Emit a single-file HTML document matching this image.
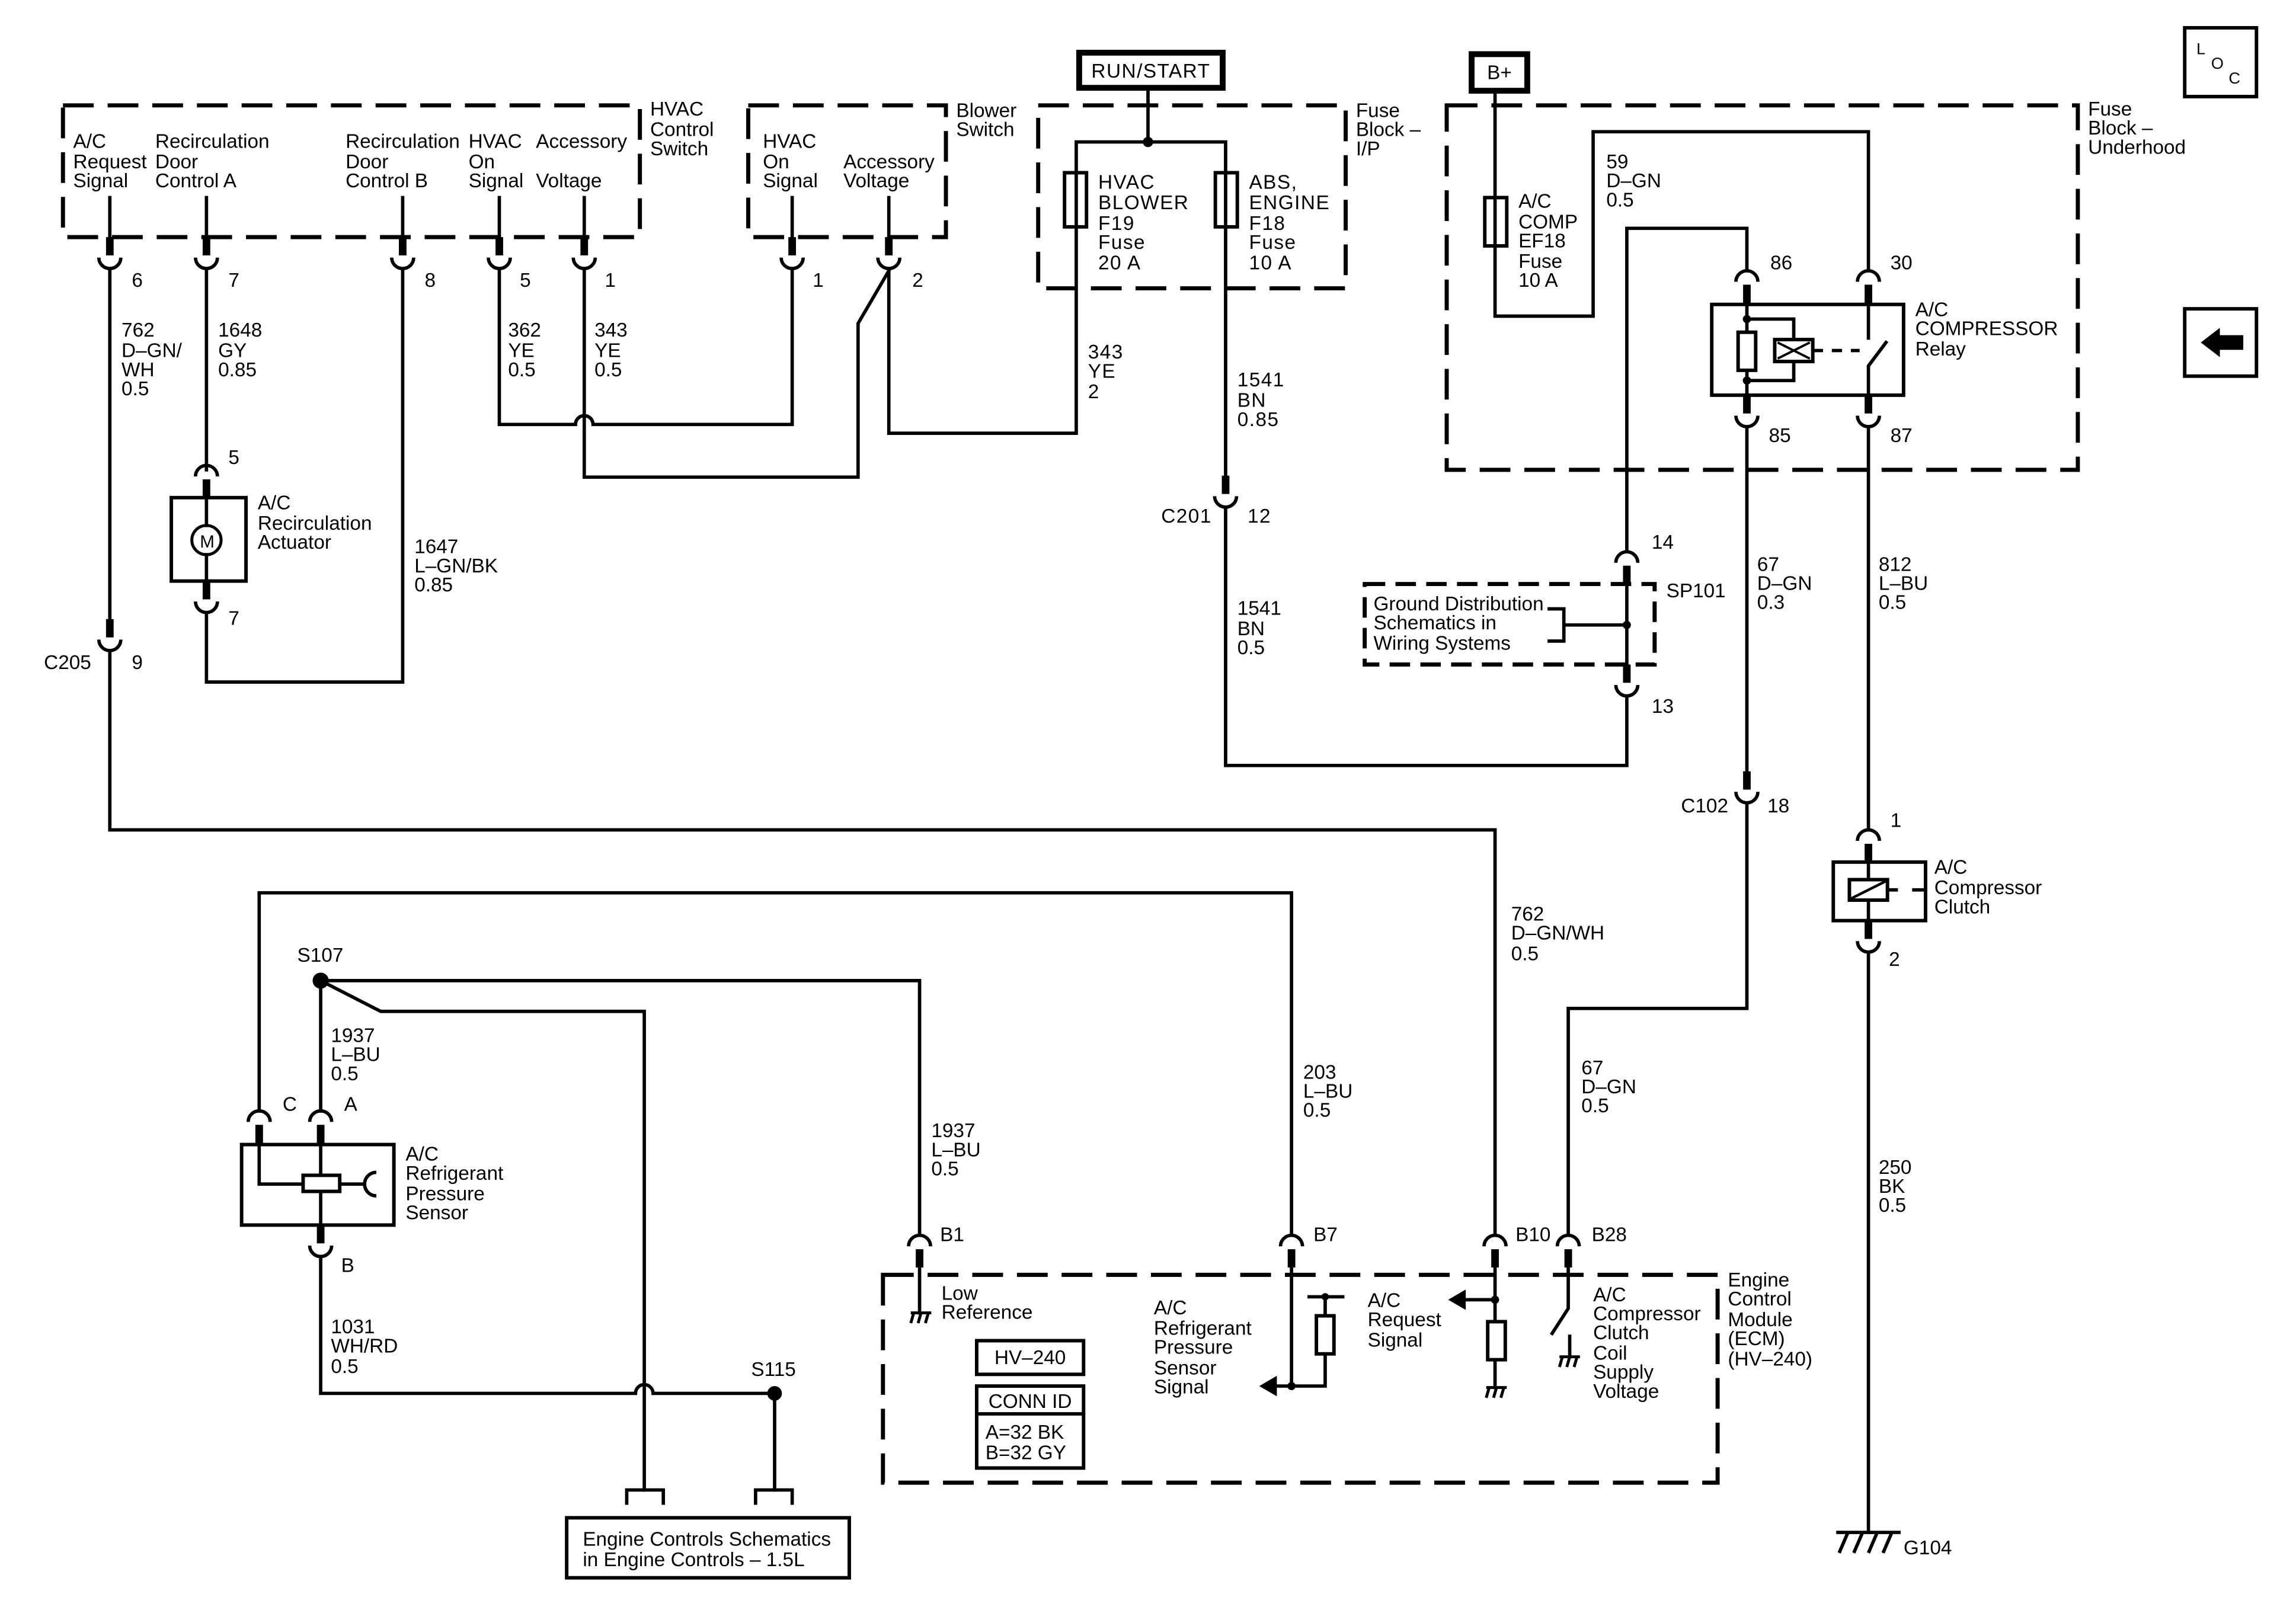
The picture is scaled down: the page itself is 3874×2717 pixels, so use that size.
<!DOCTYPE html>
<html><head><meta charset="utf-8"><style>
html,body{margin:0;padding:0;background:#fff;}
svg{display:block;}
text{font-family:"Liberation Sans",Arial,sans-serif;font-size:13.5px;fill:#000;}
.w{fill:none;stroke:#000;stroke-width:2.3;stroke-linejoin:miter;stroke-linecap:square;}
.d{fill:none;stroke:#000;stroke-width:2.8;stroke-dasharray:21 9.5;}
.b{fill:#fff;stroke:#000;stroke-width:2.4;}
.wide{font-size:13.5px;letter-spacing:0.6px;}
</style></head><body>
<svg width="3874" height="2717" viewBox="0 0 1568 1100" preserveAspectRatio="none" xmlns="http://www.w3.org/2000/svg">
<defs>
<g id="pd"><rect x="-2.6" y="0" width="5.2" height="12.5" fill="#000"/><path d="M-7.5 14 A7.5 7.5 0 0 0 7.5 14" fill="none" stroke="#000" stroke-width="2.3"/></g>
<g id="pu"><path d="M-7.5 7.5 A7.5 7.5 0 0 1 7.5 7.5" fill="none" stroke="#000" stroke-width="2.3"/><rect x="-2.6" y="9.5" width="5.2" height="12.5" fill="#000"/></g>
<g id="gnd"><path d="M-7 0 H7 M-5 0 L-7 7 M0 0 L-2 7 M5 0 L3 7" fill="none" stroke="#000" stroke-width="2"/></g>
</defs>

<!-- HVAC Control Switch -->
<path class="d" d="M43 72 H437 V162 H43 Z"/>
<text x="444" y="79">HVAC</text><text x="444" y="93">Control</text><text x="444" y="106">Switch</text>
<text x="50" y="101">A/C</text><text x="50" y="115">Request</text><text x="50" y="128">Signal</text>
<text x="106" y="101">Recirculation</text><text x="106" y="115">Door</text><text x="106" y="128">Control A</text>
<text x="236" y="101">Recirculation</text><text x="236" y="115">Door</text><text x="236" y="128">Control B</text>
<text x="320" y="101">HVAC</text><text x="320" y="115">On</text><text x="320" y="128">Signal</text>
<text x="366" y="101">Accessory</text><text x="366" y="128">Voltage</text>
<path class="w" d="M75 135 V162 M141 135 V162 M275 135 V162 M341 135 V162 M399 135 V162"/>
<use href="#pd" x="75" y="162"/><use href="#pd" x="141" y="162"/><use href="#pd" x="275" y="162"/><use href="#pd" x="341" y="162"/><use href="#pd" x="399" y="162"/>
<text x="90" y="196">6</text><text x="156" y="196">7</text><text x="290" y="196">8</text><text x="355" y="196">5</text><text x="413" y="196">1</text>

<!-- Blower Switch -->
<path class="d" d="M511 72 H646 V162 H511 Z"/>
<text x="653" y="80">Blower</text><text x="653" y="93">Switch</text>
<text x="521" y="101">HVAC</text><text x="521" y="115">On</text><text x="521" y="128">Signal</text>
<text x="576" y="115">Accessory</text><text x="576" y="128">Voltage</text>
<path class="w" d="M541 135 V162 M607 135 V162"/>
<use href="#pd" x="541" y="162"/><use href="#pd" x="607" y="162"/>
<text x="555" y="196">1</text><text x="623" y="196">2</text>

<!-- wires top-left -->
<path class="w" d="M75 184 V423"/>
<use href="#pd" x="75" y="423"/>
<text x="30" y="457">C205</text><text x="90" y="457">9</text>
<path class="w" d="M75 445 V567 H1021 V844"/>
<path class="w" d="M141 184 V321"/>
<use href="#pu" x="141" y="318"/>
<text x="156" y="317">5</text>
<rect class="b" x="117" y="340" width="51" height="57"/>
<circle cx="141" cy="369" r="10" fill="#fff" stroke="#000" stroke-width="2"/>
<text x="136.5" y="374" style="font-size:12px">M</text>
<path class="w" d="M141 340 V359 M141 379 V397"/>
<text x="176" y="348">A/C</text><text x="176" y="362">Recirculation</text><text x="176" y="375">Actuator</text>
<use href="#pd" x="141" y="397"/>
<text x="156" y="427">7</text>
<path class="w" d="M141 419 V466 H275 V184"/>
<path class="w" d="M341 184 V290 H393 A6 6 0 0 1 405 290 H541 V184"/>
<path class="w" d="M399 184 V326 H586 V221 L607 185"/>
<path class="w" d="M607 184 V296 H735 V97 H837 V325"/>
<text x="83" y="230">762</text><text x="83" y="244">D–GN/</text><text x="83" y="257">WH</text><text x="83" y="270">0.5</text>
<text x="149" y="230">1648</text><text x="149" y="244">GY</text><text x="149" y="257">0.85</text>
<text x="347" y="230">362</text><text x="347" y="244">YE</text><text x="347" y="257">0.5</text>
<text x="406" y="230">343</text><text x="406" y="244">YE</text><text x="406" y="257">0.5</text>
<text x="283" y="378">1647</text><text x="283" y="391">L–GN/BK</text><text x="283" y="404">0.85</text>

<!-- Fuse Block I/P -->
<path class="d" d="M709 72 H919 V197 H709 Z"/>
<text x="926" y="80">Fuse</text><text x="926" y="93">Block –</text><text x="926" y="106">I/P</text>
<rect x="737" y="36" width="98" height="24" fill="#fff" stroke="#000" stroke-width="4"/>
<text x="786" y="53" text-anchor="middle" class="wide">RUN/START</text>
<path class="w" d="M784 60 V97"/>
<circle cx="784" cy="97" r="3.5" fill="#000"/>
<rect class="b" x="727" y="118" width="15" height="37"/><path class="w" d="M735 118 V155"/>
<rect class="b" x="830" y="118" width="15" height="37"/><path class="w" d="M837 118 V155"/>
<text class="wide" x="750" y="129">HVAC</text><text class="wide" x="750" y="143">BLOWER</text><text class="wide" x="750" y="157">F19</text><text class="wide" x="750" y="170">Fuse</text><text class="wide" x="750" y="184">20 A</text>
<text class="wide" x="853" y="129">ABS,</text><text class="wide" x="853" y="143">ENGINE</text><text class="wide" x="853" y="157">F18</text><text class="wide" x="853" y="170">Fuse</text><text class="wide" x="853" y="184">10 A</text>
<text class="wide" x="743" y="245">343</text><text class="wide" x="743" y="258">YE</text><text class="wide" x="743" y="272">2</text>
<text class="wide" x="845" y="264">1541</text><text class="wide" x="845" y="278">BN</text><text class="wide" x="845" y="291">0.85</text>
<use href="#pd" x="837" y="325"/>
<text class="wide" x="793" y="357">C201</text><text class="wide" x="852" y="357">12</text>
<path class="w" d="M837 347 V523 H1111 V476"/>
<text x="845" y="420">1541</text><text x="845" y="434">BN</text><text x="845" y="447">0.5</text>

<!-- Fuse Block Underhood -->
<path class="d" d="M988 72 H1419 V321 H988 Z"/>
<text x="1426" y="79">Fuse</text><text x="1426" y="92">Block –</text><text x="1426" y="105">Underhood</text>
<rect x="1005" y="37" width="38" height="25" fill="#fff" stroke="#000" stroke-width="4"/>
<text x="1024" y="54" text-anchor="middle">B+</text>
<path class="w" d="M1021 62 V216 H1088 V90 H1276 V185"/>
<rect class="b" x="1014" y="135" width="15" height="33"/><path class="w" d="M1021 135 V168"/>
<text x="1037" y="142">A/C</text><text x="1037" y="156">COMP</text><text x="1037" y="169">EF18</text><text x="1037" y="183">Fuse</text><text x="1037" y="196">10 A</text>
<text x="1097" y="115">59</text><text x="1097" y="128">D–GN</text><text x="1097" y="141">0.5</text>
<path class="w" d="M1111 377 V156 H1193 V185"/>
<!-- relay -->
<use href="#pu" x="1193" y="185"/><use href="#pu" x="1276" y="185"/>
<text x="1209" y="184">86</text><text x="1291" y="184">30</text>
<rect class="b" x="1169" y="208" width="131" height="62"/>
<path class="w" d="M1193 208 V270 M1193 218 H1225 V232 M1225 247 V260 H1193"/>
<circle cx="1193" cy="218" r="2.8" fill="#000"/><circle cx="1193" cy="260" r="2.8" fill="#000"/>
<rect class="b" x="1187" y="227" width="12" height="26" stroke-width="2.2"/>
<rect class="b" x="1212" y="232" width="26" height="15" stroke-width="2.2"/>
<path d="M1214 234 L1236 245 M1214 245 L1236 234" stroke="#000" stroke-width="1.6"/>
<path d="M1238 239.5 H1270" stroke="#000" stroke-width="2.3" stroke-dasharray="7 6"/>
<path class="w" d="M1276 208 V231 M1276 270 V250 L1288 234"/>
<text x="1308" y="216">A/C</text><text x="1308" y="229">COMPRESSOR</text><text x="1308" y="243">Relay</text>
<use href="#pd" x="1193" y="270"/><use href="#pd" x="1276" y="270"/>
<text x="1208" y="302">85</text><text x="1291" y="302">87</text>
<path class="w" d="M1193 292 V527"/>
<use href="#pd" x="1193" y="527"/>
<text x="1148" y="555">C102</text><text x="1207" y="555">18</text>
<path class="w" d="M1193 549 V689 H1071 V844"/>
<text x="1200" y="390">67</text><text x="1200" y="403">D–GN</text><text x="1200" y="416">0.3</text>
<path class="w" d="M1276 292 V567"/>
<text x="1283" y="390">812</text><text x="1283" y="403">L–BU</text><text x="1283" y="416">0.5</text>

<!-- SP101 -->
<path class="d" d="M932 399 H1130 V454 H932 Z" style="stroke-dasharray:14 7"/>
<text x="938" y="417">Ground Distribution</text><text x="938" y="430">Schematics in</text><text x="938" y="444">Wiring Systems</text>
<path class="w" d="M1058 416 H1068 V438 H1058 M1068 427 H1111 M1111 399 V454"/>
<circle cx="1111" cy="427" r="2.8" fill="#000"/>
<use href="#pu" x="1111" y="377"/>
<text x="1128" y="375">14</text><text x="1138" y="408">SP101</text>
<use href="#pd" x="1111" y="454"/>
<text x="1128" y="487">13</text>

<!-- clutch -->
<use href="#pu" x="1276" y="567"/>
<text x="1291" y="565">1</text>
<rect class="b" x="1252" y="589" width="63" height="40"/>
<path class="w" d="M1276 589 V629"/>
<rect class="b" x="1263" y="601" width="26" height="14"/>
<path d="M1264 614 L1288 602" stroke="#000" stroke-width="1.8"/>
<path class="w" d="M1289 608 H1295 M1307 608 H1315"/>
<text x="1321" y="597">A/C</text><text x="1321" y="611">Compressor</text><text x="1321" y="624">Clutch</text>
<use href="#pd" x="1276" y="629"/>
<text x="1290" y="660">2</text>
<path class="w" d="M1276 651 V1047"/>
<text x="1283" y="802">250</text><text x="1283" y="815">BK</text><text x="1283" y="828">0.5</text>
<path d="M1254 1047 H1298 M1262 1047 L1256 1061 M1272 1047 L1266 1061 M1282 1047 L1276 1061 M1292 1047 L1286 1061" stroke="#000" stroke-width="2.3" fill="none"/>
<text x="1300" y="1062">G104</text>

<!-- S107 / sensor -->
<path class="w" d="M177 759 V610 H882 V844"/>
<path class="w" d="M219 670 H628 V844"/>
<path class="w" d="M219 670 V759"/>
<path class="w" d="M219 670 L260 691 H440 V1018"/>
<circle cx="219" cy="670" r="5.5" fill="#000"/>
<text x="203" y="657">S107</text>
<text x="226" y="712">1937</text><text x="226" y="725">L–BU</text><text x="226" y="738">0.5</text>
<use href="#pu" x="177" y="759"/><use href="#pu" x="219" y="759"/>
<text x="193" y="759">C</text><text x="235" y="759">A</text>
<rect class="b" x="165" y="782" width="104" height="55"/>
<path class="w" d="M177 782 V809 H207 M232 809 H248 M219 782 V837"/>
<rect class="b" x="207" y="803" width="25" height="11"/>
<path d="M257 801 A8 8 0 0 0 257 817" fill="none" stroke="#000" stroke-width="2.3"/>
<text x="277" y="793">A/C</text><text x="277" y="806">Refrigerant</text><text x="277" y="820">Pressure</text><text x="277" y="833">Sensor</text>
<use href="#pd" x="219" y="837"/>
<text x="233" y="869">B</text>
<text x="226" y="911">1031</text><text x="226" y="924">WH/RD</text><text x="226" y="938">0.5</text>
<path class="w" d="M219 859 V952 H434 A6 6 0 0 1 446 952 H529 V1018"/>
<circle cx="529" cy="952" r="5" fill="#000"/>
<text x="513" y="940">S115</text>
<path class="w" d="M428 1027 V1018 H453 V1027 M516 1027 V1018 H541 V1027"/>
<rect class="b" x="387" y="1037" width="193" height="41"/>
<text x="398" y="1056">Engine Controls Schematics</text><text x="398" y="1070">in Engine Controls – 1.5L</text>

<text x="636" y="777">1937</text><text x="636" y="790">L–BU</text><text x="636" y="803">0.5</text>
<text x="890" y="737">203</text><text x="890" y="750">L–BU</text><text x="890" y="763">0.5</text>
<text x="1032" y="629">762</text><text x="1032" y="642">D–GN/WH</text><text x="1032" y="656">0.5</text>
<text x="1080" y="734">67</text><text x="1080" y="747">D–GN</text><text x="1080" y="760">0.5</text>

<!-- ECM -->
<path class="d" d="M603 871 H1173 V1013 H603 Z"/>
<text x="1180" y="879">Engine</text><text x="1180" y="892">Control</text><text x="1180" y="906">Module</text><text x="1180" y="919">(ECM)</text><text x="1180" y="933">(HV–240)</text>
<use href="#pu" x="628" y="844"/><use href="#pu" x="882" y="844"/><use href="#pu" x="1021" y="844"/><use href="#pu" x="1071" y="844"/>
<text x="642" y="848">B1</text><text x="897" y="848">B7</text><text x="1035" y="848">B10</text><text x="1087" y="848">B28</text>
<path class="w" d="M628 866 V897"/>
<use href="#gnd" x="629" y="897"/>
<text x="643" y="888">Low</text><text x="643" y="901">Reference</text>
<rect class="b" x="667" y="916" width="73" height="23"/>
<text x="703.5" y="932" text-anchor="middle">HV–240</text>
<rect class="b" x="667" y="947" width="73" height="56"/>
<path class="w" d="M667 966 H740"/>
<text x="703.5" y="962" text-anchor="middle">CONN ID</text>
<text x="673" y="983">A=32 BK</text><text x="673" y="997">B=32 GY</text>
<path class="w" d="M882 866 V947 H870 M882 947 H905 V886 M894 886 H917"/>
<polygon points="860,947 872,940 872,954" fill="#000"/>
<circle cx="882" cy="947" r="2.8" fill="#000"/>
<circle cx="905" cy="886" r="2.5" fill="#000"/>
<rect class="b" x="899" y="899" width="12" height="26" stroke-width="2.2"/>
<text x="788" y="898">A/C</text><text x="788" y="912">Refrigerant</text><text x="788" y="925">Pressure</text><text x="788" y="939">Sensor</text><text x="788" y="952">Signal</text>
<path class="w" d="M1021 866 V948 M1021 888 H999"/>
<polygon points="989,888 1001,881 1001,895" fill="#000"/>
<circle cx="1021" cy="888" r="2.8" fill="#000"/>
<rect class="b" x="1016" y="903" width="12" height="26" stroke-width="2.2"/>
<use href="#gnd" x="1022" y="948"/>
<text x="934" y="893">A/C</text><text x="934" y="906">Request</text><text x="934" y="920">Signal</text>
<path class="w" d="M1071 866 V894 L1060 911 M1072 913 V927"/>
<use href="#gnd" x="1072" y="927"/>
<text x="1088" y="889">A/C</text><text x="1088" y="902">Compressor</text><text x="1088" y="915">Clutch</text><text x="1088" y="929">Coil</text><text x="1088" y="942">Supply</text><text x="1088" y="955">Voltage</text>

<!-- LOC & arrow -->
<rect class="b" x="1492" y="19" width="49" height="47"/>
<text x="1500" y="37" style="font-size:11px">L</text><text x="1510" y="47" style="font-size:11px">O</text><text x="1522" y="57" style="font-size:11px">C</text>
<rect class="b" x="1492" y="211" width="49" height="46"/>
<polygon points="1503,234 1516,224 1516,229 1532,229 1532,239 1516,239 1516,244" fill="#000"/>
</svg>
</body></html>
